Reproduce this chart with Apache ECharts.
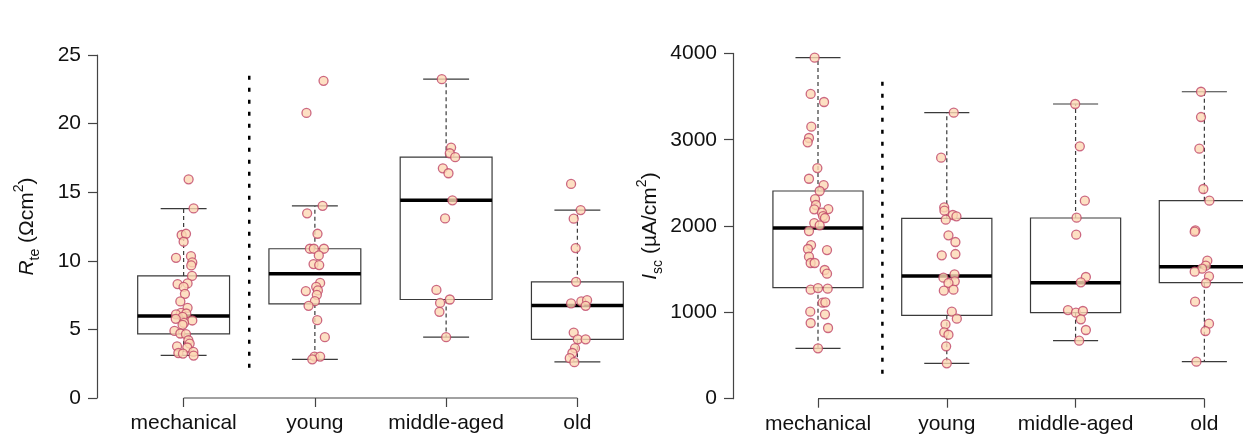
<!DOCTYPE html>
<html>
<head>
<meta charset="utf-8">
<script src="https://cdn.jsdelivr.net/npm/echarts@6/dist/echarts.min.js"></script>
<style>
html,body{margin:0;padding:0;background:#fff;}
#chart{width:1243px;height:436px;}
</style>
</head>
<body>
<div id="chart"></div>
<script>
// ---------- DATA ----------
const categories = ['mechanical', 'young', 'middle-aged', 'old'];

// box statistics: [lower whisker, Q1, median, Q3, upper whisker]
const rteBox = [
  [3.10, 4.67, 5.98, 8.90, 13.80],
  [2.82, 6.86, 9.05, 10.88, 14.00],
  [4.43, 7.18, 14.41, 17.55, 23.24],
  [2.63, 4.28, 6.74, 8.47, 13.70]
];
const iscBox = [
  [584, 1286, 1977, 2406, 3950],
  [410, 966, 1421, 2090, 3313],
  [672, 996, 1344, 2093, 3414],
  [429, 1344, 1529, 2294, 3556]
];

// individual observations per group
const rteValues = [
  [15.94,13.82,11.88,11.97,11.39,10.22,10.34,9.88,9.66,8.9,8.3,8.35,8.1,7.59,7.04,6.57,6.2,6.16,6.09,5.91,5.77,5.65,5.47,5.33,4.89,4.7,4.65,4.21,3.97,3.77,3.68,3.28,3.24,3.36,3.09],
  [23.12,20.78,14.01,13.46,11.97,10.88,10.88,10.88,10.39,9.76,9.69,8.39,8.1,7.84,7.79,7.52,7.06,6.72,5.67,4.43,3.02,3.02,2.82],
  [23.24,18.25,17.84,17.55,16.74,16.38,14.41,13.09,7.88,7.18,6.93,6.28,4.43],
  [15.6,13.7,13.07,10.93,8.47,6.89,7.04,7.13,6.72,4.77,4.28,4.28,3.63,3.28,2.9,2.61]
];
// horizontal jitter of each observation (category units)
const rteJitter = [
  [0.038,0.076,-0.015,0.018,0,-0.058,0.056,0.066,0.058,0.064,-0.046,0.03,0,0.01,-0.025,0.03,-0.02,0.02,-0.058,-0.008,-0.06,0.066,0.003,-0.008,-0.07,-0.025,0.018,0.036,0.046,-0.05,0.028,-0.04,-0.005,0.074,0.076],
  [0.066,-0.064,0.059,-0.059,0.02,-0.038,-0.008,0.069,0.03,-0.01,0.033,0.04,0.01,0.023,-0.069,0.015,0,-0.048,0.018,0.076,-0.003,0.04,-0.02],
  [-0.033,0.038,0.028,0.069,-0.025,0.018,0.048,-0.008,-0.074,0.028,-0.046,-0.051,0],
  [-0.048,0.025,-0.028,-0.013,-0.01,-0.048,0.03,0.074,0.063,-0.028,0.003,0.063,-0.018,-0.038,-0.058,-0.023]
];
const iscValues = [
  [3950,3530,3437,3151,3020,2970,2672,2548,2475,2406,2313,2244,2194,2197,2155,2116,2093,2035,2008,1942,1780,1734,1722,1645,1572,1572,1491,1448,1263,1282,1274,1112,1116,1008,977,877,819,584],
  [3313,2792,2217,2178,2128,2113,2074,1893,1815,1661,1676,1441,1402,1360,1340,1251,1263,1008,927,862,769,741,607,410],
  [3414,2924,2294,2097,1900,1410,1348,1027,996,1016,920,796,672],
  [3556,3263,2896,2429,2294,1950,1935,1599,1541,1506,1471,1418,1340,1124,869,784,429]
];
const iscJitter = [
  [-0.026,-0.057,0.047,-0.052,-0.07,-0.08,-0.005,-0.07,0.044,0.013,-0.023,-0.016,-0.029,0.08,0.031,0.039,0.054,-0.029,0.013,-0.07,-0.054,-0.078,0.07,-0.07,-0.057,-0.026,0.052,0.07,-0.057,0,0.075,0.036,0.057,-0.06,0.054,-0.057,0.078,0],
  [0.054,-0.044,-0.02,-0.018,0.047,0.075,-0.008,0.013,0.067,-0.039,0.067,0.06,-0.026,0.062,0.013,-0.023,0.052,0.039,0.078,-0.01,-0.02,0.013,-0.005,0],
  [-0.003,0.033,0.072,0.008,0.005,0.08,0.041,-0.059,0.003,0.057,0.041,0.08,0.028],
  [-0.026,-0.026,-0.039,-0.008,0.039,-0.07,-0.075,0.023,0.011,-0.018,-0.075,0.036,0.013,-0.072,0.036,0.008,-0.062]
];

// y-axis ticks
const rteTicks = [0, 5, 10, 15, 20, 25];
const iscTicks = [0, 1000, 2000, 3000, 4000];

// vertical dotted separator between "mechanical" and the age groups (y range)
const rteSeparator = [2.2, 23.5];
const iscSeparator = [290, 3700];

// ---------- CHART ----------
const FONT = 'Liberation Sans, Arial, sans-serif';
const chart = echarts.init(document.getElementById('chart'), null, {renderer: 'canvas'});

function boxData(stats) {
  return stats.map((s, i) => [i + 1].concat(s));
}
function pointData(values, jitter) {
  const out = [];
  values.forEach((grp, i) => grp.forEach((v, j) => out.push([i + 1 + jitter[i][j], v])));
  return out;
}

function renderBox(params, api) {
  const x = api.value(0);
  const lo = api.coord([x, api.value(1)]);
  const q1 = api.coord([x, api.value(2)]);
  const md = api.coord([x, api.value(3)]);
  const q3 = api.coord([x, api.value(4)]);
  const hi = api.coord([x, api.value(5)]);
  const hb = api.size([0.35, 0])[0];
  const hc = api.size([0.175, 0])[0];
  const cx = md[0];
  const boxStroke = '#3a3a3a';
  return {
    type: 'group',
    children: [
      {type: 'line', shape: {x1: cx, y1: q3[1], x2: cx, y2: hi[1]}, style: {stroke: boxStroke, lineWidth: 1.2, lineDash: [4, 3]}},
      {type: 'line', shape: {x1: cx, y1: q1[1], x2: cx, y2: lo[1]}, style: {stroke: boxStroke, lineWidth: 1.2, lineDash: [4, 3]}},
      {type: 'line', shape: {x1: cx - hc, y1: hi[1], x2: cx + hc, y2: hi[1]}, style: {stroke: boxStroke, lineWidth: 1.2}},
      {type: 'line', shape: {x1: cx - hc, y1: lo[1], x2: cx + hc, y2: lo[1]}, style: {stroke: boxStroke, lineWidth: 1.2}},
      {type: 'rect', shape: {x: cx - hb, y: q3[1], width: 2 * hb, height: q1[1] - q3[1]}, style: {fill: 'rgba(0,0,0,0)', stroke: boxStroke, lineWidth: 1.2}},
      {type: 'line', shape: {x1: cx - hb, y1: md[1], x2: cx + hb, y2: md[1]}, style: {stroke: '#000', lineWidth: 3.5}}
    ]
  };
}

const tickValues = categories.map((c, i) => i + 1);

function xAxisCfg(gridIndex, max) {
  return {
    type: 'value', gridIndex, min: 0.34, max,
    axisLine: {show: false},
    splitLine: {show: false},
    axisTick: {show: true, customValues: tickValues, length: 9, lineStyle: {color: '#444', width: 1.2}},
    axisLabel: {customValues: tickValues, formatter: v => categories[Math.round(v) - 1] || '',
      fontSize: 21, color: '#111', fontFamily: FONT, margin: 15}
  };
}
function yAxisCfg(gridIndex, max, interval, name, gap) {
  return {
    type: 'value', gridIndex, min: 0, max, interval,
    name, nameLocation: 'middle', nameGap: gap,
    nameTextStyle: {
      fontSize: 21, color: '#111', fontFamily: FONT,
      rich: {
        it: {fontSize: 21, fontStyle: 'italic', fontFamily: FONT, color: '#111', lineHeight: 30, verticalAlign: 'middle'},
        n: {fontSize: 21, fontFamily: FONT, color: '#111', lineHeight: 30, verticalAlign: 'middle'},
        sub: {fontSize: 14, fontFamily: FONT, color: '#111', lineHeight: 14, verticalAlign: 'bottom'},
        sup: {fontSize: 14, fontFamily: FONT, color: '#111', lineHeight: 14, verticalAlign: 'top'}
      }
    },
    axisLine: {show: true, lineStyle: {color: '#444', width: 1.2}},
    axisTick: {show: true, length: 9, lineStyle: {color: '#444', width: 1.2}},
    splitLine: {show: false},
    axisLabel: {fontSize: 21, color: '#111', fontFamily: FONT, margin: 16, formatter: v => String(v)}
  };
}

const pointStyle = {color: '#fcd8b4', borderColor: '#bf4566', borderWidth: 1.3};

const option = {
  backgroundColor: '#ffffff',
  animation: false,
  grid: [
    {left: 97, top: 55, width: 567, height: 343},
    {left: 733, top: 53.4, width: 510, height: 345.3}
  ],
  xAxis: [xAxisCfg(0, 4.66), xAxisCfg(1, 4.30)],
  yAxis: [
    yAxisCfg(0, rteTicks[rteTicks.length - 1], rteTicks[1] - rteTicks[0], '{it|R}{sub|te}{n| (Ωcm}{sup|2}{n|)}', 55),
    yAxisCfg(1, iscTicks[iscTicks.length - 1], iscTicks[1] - iscTicks[0], '{it|I}{sub|sc}{n| (µA/cm}{sup|2}{n|)}', 68)
  ],
  series: [
    // bottom axis line from first to last category
    {type: 'line', xAxisIndex: 0, yAxisIndex: 0, data: [[1, rteTicks[0]], [categories.length, rteTicks[0]]],
      symbol: 'none', lineStyle: {color: '#444', width: 1.2}, silent: true, clip: false, z: 1},
    {type: 'line', xAxisIndex: 1, yAxisIndex: 1, data: [[1, iscTicks[0]], [categories.length, iscTicks[0]]],
      symbol: 'none', lineStyle: {color: '#444', width: 1.2}, silent: true, clip: false, z: 1},
    // separators
    {type: 'line', xAxisIndex: 0, yAxisIndex: 0, data: [[1.5, rteSeparator[0]], [1.5, rteSeparator[1]]],
      symbol: 'none', lineStyle: {color: '#000', width: 2.5, type: [4, 8]}, silent: true, z: 1},
    {type: 'line', xAxisIndex: 1, yAxisIndex: 1, data: [[1.5, iscSeparator[0]], [1.5, iscSeparator[1]]],
      symbol: 'none', lineStyle: {color: '#000', width: 2.5, type: [4, 8]}, silent: true, z: 1},
    // boxes
    {type: 'custom', xAxisIndex: 0, yAxisIndex: 0, renderItem: renderBox, data: boxData(rteBox), z: 2, silent: true},
    {type: 'custom', xAxisIndex: 1, yAxisIndex: 1, renderItem: renderBox, data: boxData(iscBox), z: 2, silent: true, clip: false},
    // points
    {type: 'scatter', xAxisIndex: 0, yAxisIndex: 0, data: pointData(rteValues, rteJitter), symbolSize: 9, itemStyle: pointStyle, z: 3},
    {type: 'scatter', xAxisIndex: 1, yAxisIndex: 1, data: pointData(iscValues, iscJitter), symbolSize: 9, itemStyle: pointStyle, z: 3}
  ]
};
chart.setOption(option);
</script>
</body>
</html>
